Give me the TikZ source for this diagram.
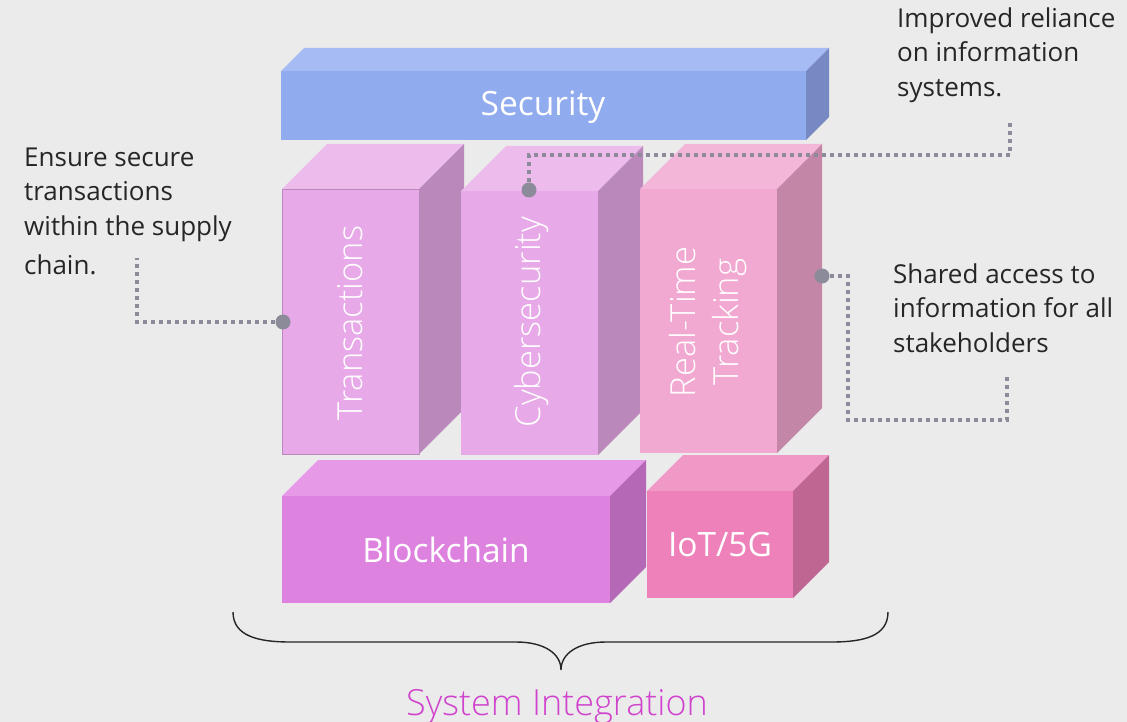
\documentclass[tikz,border=0pt]{standalone}
\usepackage{fontspec}
\setmainfont{Open Sans}
\newfontfamily\thinfont{Open Sans Light}
\definecolor{bg}{HTML}{EBEBEB}
\definecolor{ink}{HTML}{262626}
\definecolor{wire}{HTML}{8C8B99}
\definecolor{magenta}{HTML}{D044CD}
% Security
\definecolor{secF}{HTML}{91ABEF}\definecolor{secT}{HTML}{A6BBF3}\definecolor{secS}{HTML}{7789C3}
% Transactions / Cybersecurity
\definecolor{lilF}{HTML}{E8A9E8}\definecolor{lilT}{HTML}{EDBBEC}\definecolor{lilS}{HTML}{BB88BB}
% Real-Time Tracking
\definecolor{rosF}{HTML}{F2A9D1}\definecolor{rosT}{HTML}{F4B6D8}\definecolor{rosS}{HTML}{C486A7}
% Blockchain
\definecolor{blkF}{HTML}{DE82E0}\definecolor{blkT}{HTML}{E699E6}\definecolor{blkS}{HTML}{B468B6}
% IoT/5G
\definecolor{iotF}{HTML}{EE80BA}\definecolor{iotT}{HTML}{F199C6}\definecolor{iotS}{HTML}{C06693}

% cuboid: front face (x1,y1)-(x2,y2), depth d, colours for front, top and side
\newcommand\cuboid[8]{%
  \fill[#7] (#1,#2) -- ({#1+#5},{#2-#5}) -- ({#3+#5},{#2-#5}) -- (#3,#2) -- cycle;
  \fill[#8] (#3,#2) -- ({#3+#5},{#2-#5}) -- ({#3+#5},{#4-#5}) -- (#3,#4) -- cycle;
  \fill[#6] (#1,#2) rectangle (#3,#4);
}

\begin{document}
\begin{tikzpicture}[x=1pt,y=-1pt,
  note/.style={font=\fontsize{26}{34.5}\selectfont, text=ink, align=left,
    inner sep=0pt, anchor=north west},
  boxlabel/.style={font=\fontsize{33.5}{40}\selectfont, text=white, inner sep=0pt, anchor=base},
  vlabel/.style={font=\thinfont\fontsize{34.5}{43}\selectfont, text=white, inner sep=0pt,
    rotate=90, align=center},
  leader/.style={draw=wire, line width=3.5pt, dash pattern=on 4pt off 4pt},
  pin/.style={fill=wire},
]
\useasboundingbox[fill=bg] (0,0) rectangle (1127,722);

% blocks
\cuboid{281}{71}{806}{140}{23}{secF}{secT}{secS}
\cuboid{282}{189}{419}{454}{45}{lilF}{lilT}{lilS}
\draw[lilS, line width=0.8pt] (282,189) rectangle (419,454);
\cuboid{461}{191}{598}{455}{45}{lilF}{lilT}{lilS}
\cuboid{640}{189}{777}{453}{45}{rosF}{rosT}{rosS}
\cuboid{282}{496}{610}{603}{36}{blkF}{blkT}{blkS}
\cuboid{647}{491}{793}{598}{36}{iotF}{iotT}{iotS}

% block labels
\node[boxlabel] (security) at (543,116) {Security};
\node[boxlabel] (blockchain) at (446,562) {Blockchain};
\node[boxlabel] (iot) at (720,556) {IoT/5G};
\node[vlabel, anchor=base] (trans) at (362,323) {Transactions};
\node[vlabel, anchor=base] (cyber) at (540,322) {Cybersecurity};
\node[vlabel] (rtt) at (708,322) {Real-Time\\Tracking};

% notes
\node[note] (n1) at (24,146) {\rule{0pt}{20pt}Ensure secure\\transactions\\within the supply\\[5pt]chain.};
\node[note] (n2) at (897,7) {\rule{0pt}{20pt}Improved reliance\\on information\\systems.};
\node[note] (n3) at (893,263) {\rule{0pt}{20pt}Shared access to\\information for all\\stakeholders};

% leader lines
\coordinate (p1) at (283,322);
\coordinate (e1) at (137,258);
\coordinate (p2) at (529,190);
\coordinate (e2) at (1010,120);
\coordinate (p3) at (822,276);
\coordinate (e3) at (1007,375);
\draw[leader] (p1) -- (e1 |- p1) -- (e1);
\draw[leader] (p2) -- (p2 |- 0,155) -- (e2 |- 0,155) -- (e2);
\draw[leader] (p3) -- (848,276) -- (848,420) -- (e3 |- 0,420) -- (e3);
\fill[pin] (p1) circle (7.5);
\fill[pin] (p2) circle (7.5);
\fill[pin] (p3) circle (7.5);

% brace
\draw[ink, line width=1.4pt]
  (233,612) .. controls (233,636) and (258,642) .. (290,642) -- (516,642)
  .. controls (545,642) and (561,654) .. (561,670)
  .. controls (561,654) and (577,642) .. (606,642) -- (832,642)
  .. controls (864,642) and (888,636) .. (888,612);
\node[font=\thinfont\fontsize{36}{40}\selectfont, text=magenta, inner sep=0pt, anchor=base]
  (integration) at (557,715) {System Integration};
\end{tikzpicture}
\end{document}
